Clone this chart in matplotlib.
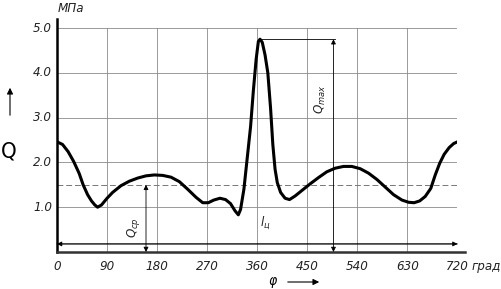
import matplotlib
matplotlib.use('Agg')
import matplotlib.pyplot as plt

# Angle of crank rotation, deg
phi = [0, 10, 20, 30, 40, 47, 55, 62, 68, 73, 80, 90, 100, 115, 130, 145, 160, 175,
       190, 205, 220, 235, 250, 262, 272, 282, 293, 303, 312, 320, 326, 330, 336,
       342, 348, 353, 358, 362, 365, 369, 374, 379, 384, 388, 392, 396, 402, 410,
       418, 428, 440, 455, 470, 485, 500, 515, 530, 545, 560, 575, 590, 605, 620,
       632, 642, 652, 662, 672, 680, 688, 696, 705, 713, 720]
# Q, MPa
q = [2.46, 2.40, 2.24, 2.02, 1.75, 1.50, 1.28, 1.14, 1.05, 1.0, 1.05, 1.2, 1.33,
     1.48, 1.58, 1.65, 1.70, 1.72, 1.71, 1.67, 1.57, 1.40, 1.22, 1.10, 1.10, 1.16,
     1.20, 1.17, 1.08, 0.92, 0.83, 0.95, 1.4, 2.1, 2.8, 3.6, 4.3, 4.7, 4.75, 4.68,
     4.4, 4.0, 3.2, 2.4, 1.85, 1.55, 1.33, 1.2, 1.17, 1.25, 1.37, 1.52, 1.66, 1.79,
     1.87, 1.91, 1.91, 1.86, 1.76, 1.62, 1.45, 1.28, 1.16, 1.11, 1.10, 1.14, 1.24,
     1.42, 1.72, 1.98, 2.18, 2.33, 2.42, 2.46]

q_mean = 1.5
q_max = 4.75
xticks = [0, 90, 180, 270, 360, 450, 540, 630, 720]
yticks = [1.0, 2.0, 3.0, 4.0, 5.0]

plt.rcParams['font.family'] = ['DejaVu Sans']
plt.rcParams['font.stretch'] = 'condensed'
plt.rcParams['mathtext.fontset'] = 'dejavusans'

lbl = dict(fontsize=9.5, style='italic', stretch='condensed', color='#222222')

fig = plt.figure(figsize=(5.02, 2.89), dpi=100)
ax = fig.add_axes([57 / 502, 37 / 289, 400.5 / 502, 224 / 289])
ax.set_xlim(0, 720)
ax.set_ylim(0, 5)
ax.axis('off')

# grid
for x in xticks[1:]:
    ax.plot([x, x], [0, 5], color='#8a8a8a', lw=0.6, zorder=1)
for y in yticks:
    ax.plot([0, 720], [y, y], color='#8a8a8a', lw=0.6, zorder=1)

# axes lines
ax.plot([0, 0], [0, 5.2], color='black', lw=1.8, clip_on=False, zorder=3)
ax.plot([0, 734], [0, 0], color='#333333', lw=1.8, clip_on=False, zorder=3)

# mean line
ax.plot([0, 720], [q_mean, q_mean], color='#777777', lw=0.7, dashes=(6, 3), zorder=2)

# curve
ax.plot(phi, q, color='black', lw=2.2, zorder=4, solid_capstyle='round')

# tick labels
for x in xticks:
    ax.text(x, -0.17, str(x), ha='center', va='top', **lbl)
for y in yticks:
    ax.text(-9, y, '%.1f' % y, ha='right', va='center', **lbl)

ax.text(2, 5.3, 'МПа', ha='left', va='bottom', **lbl)
ax.text(745, -0.17, 'град', ha='left', va='top', **lbl)

# cycle length l_ц
ax.annotate('', xy=(0, 0.18), xytext=(720, 0.18),
            arrowprops=dict(arrowstyle='-|>', color='black', lw=0.6,
                            mutation_scale=7, shrinkA=0, shrinkB=0))
ax.annotate('', xy=(720, 0.18), xytext=(0, 0.18),
            arrowprops=dict(arrowstyle='-|>', color='black', lw=0.6,
                            mutation_scale=7, shrinkA=0, shrinkB=0))
ax.text(375, 0.45, r'$l_{ц}$', ha='center', va='bottom', fontsize=9.5, color='#222222')

# Q mean
ax.annotate('', xy=(160, q_mean), xytext=(160, 0),
            arrowprops=dict(arrowstyle='<|-|>', color='black', lw=0.6,
                            mutation_scale=7, shrinkA=0, shrinkB=0))
ax.text(138, 0.55, r'$Q_{ср}$', ha='center', va='center', fontsize=9.5,
        rotation=90, color='#222222')

# Q max
ax.plot([364, 500], [q_max, q_max], color='black', lw=0.6)
ax.annotate('', xy=(497, q_max), xytext=(497, 0),
            arrowprops=dict(arrowstyle='<|-|>', color='black', lw=0.6,
                            mutation_scale=7, shrinkA=0, shrinkB=0))
ax.text(474, 3.4, r'$Q_{max}$', ha='center', va='center', fontsize=9.5,
        rotation=90, color='#222222')

# axis names
fig.text(9 / 502, 1 - 152 / 289, 'Q', ha='center', va='center', fontsize=16,
         stretch='condensed')
fig.add_artist(matplotlib.patches.FancyArrowPatch(
    (10 / 502, 1 - 118 / 289), (10 / 502, 1 - 85 / 289), transform=fig.transFigure,
    arrowstyle='-|>', mutation_scale=9, color='black', lw=0.8))
fig.text(273 / 502, 1 - 281 / 289, 'φ', ha='center', va='center', fontsize=10,
         style='italic')
fig.add_artist(matplotlib.patches.FancyArrowPatch(
    (285 / 502, 1 - 282 / 289), (322 / 502, 1 - 282 / 289), transform=fig.transFigure,
    arrowstyle='-|>', mutation_scale=9, color='black', lw=0.8))

fig.savefig('out.png', dpi=100)
